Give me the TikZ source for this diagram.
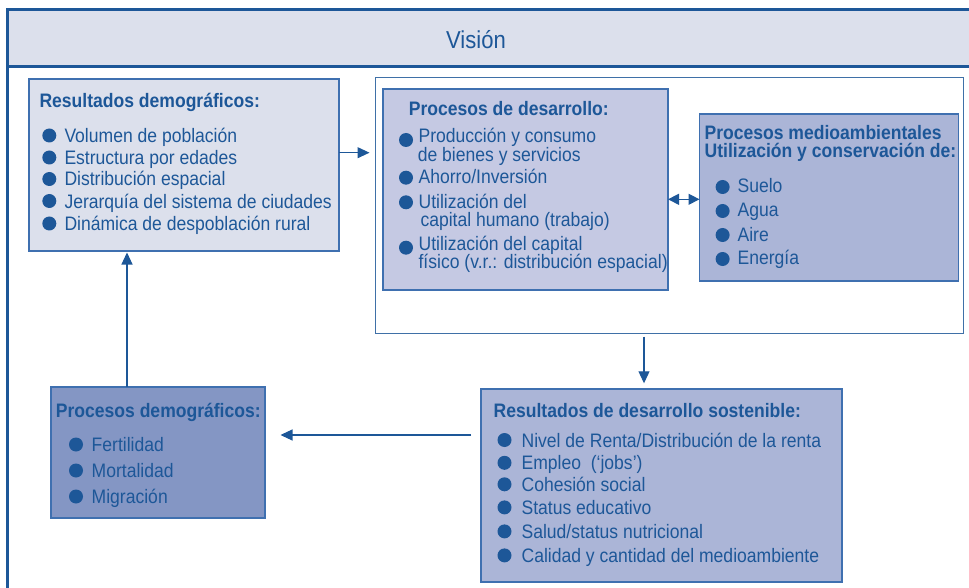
\documentclass[tikz,border=0pt]{standalone}
\usepackage{fontspec}
\setmainfont{Liberation Sans}[FakeStretch=0.9]
\usetikzlibrary{arrows.meta,calc}
\definecolor{tblue}{HTML}{1D5798}
\definecolor{lblue}{HTML}{3F70B0}
\definecolor{fA}{HTML}{DCE0EC}
\definecolor{fB}{HTML}{C5C9E3}
\definecolor{fC}{HTML}{ABB5D7}
\definecolor{fD}{HTML}{8496C4}
\newcommand\myslash{/}
\begin{document}
\begin{tikzpicture}[x=1pt,y=-1pt,
  box/.style={draw=lblue,line width=1.2pt,anchor=north west,inner sep=0pt,outer sep=0pt},
  txt/.style={anchor=base west,inner sep=0pt,text=tblue,font=\fontsize{19.5}{22}\selectfont},
  ttl/.style={txt,font=\fontsize{19.5}{22}\selectfont\bfseries},
  bul/.style={circle,fill=tblue,inner sep=0pt,minimum size=14pt},
  arr/.style={draw=tblue,line width=1.1pt,-{Triangle[length=12pt,width=11pt]}},
  darr/.style={draw=tblue,line width=1.1pt,{Triangle[length=11pt,width=11pt]}-{Triangle[length=11pt,width=11pt]}}]
\useasboundingbox (0,0) rectangle (969,588);
% outer frame and vision band
\node[anchor=north west,fill=fA,inner sep=0pt,minimum width=963pt,minimum height=56pt] (band) at (7,10) {};
\node[anchor=base,inner sep=0pt,text=tblue,font=\fontsize{24.5}{28}\selectfont] (vision) at (476,48.3) {Visión};
\draw[tblue,line width=3pt] (band.south west) -- (band.south east);
\draw[tblue,line width=3pt] (970,10) -- (band.north west) -- (7,590);
% boxes
\node[box,fill=fA,minimum width=310pt,minimum height=172pt] (rd) at (29,79) {};
\node[box,draw=tblue!85,line width=1pt,fill=white,minimum width=588pt,minimum height=255pt] (cont) at (375,78) {};
\node[box,fill=fB,minimum width=285pt,minimum height=201pt] (pdv) at (383,89) {};
\node[box,fill=fC,minimum width=259pt,minimum height=167pt] (pm) at (699.5,114) {};
\node[box,fill=fC,minimum width=361pt,minimum height=193pt] (rds) at (481,389) {};
\node[box,fill=fD,minimum width=214pt,minimum height=131pt] (pdem) at (51,387) {};
% Resultados demograficos
\node[ttl] (rdT) at (39.3,107.7) {Resultados demográficos:};
\foreach \t/\y [count=\i] in {Volumen de población/142.5,Estructura por edades/164.5,Distribución espacial/186,Jerarquía del sistema de ciudades/208,Dinámica de despoblación rural/230.5}{
  \node[bul] (rdb\i) at (49.3,\y-7) {};
  \node[txt] (rdt\i) at (64.3,\y) {\t};
}
% Procesos de desarrollo
\node[ttl] (pdvT) at (408.6,116) {Procesos de desarrollo:};
\foreach \t/\x/\y [count=\i] in {Producción y consumo/418.4/142.3,de bienes y servicios/417.6/161.7,Ahorro\myslash Inversión/418.4/184,Utilización del/418.4/208.3,capital humano (trabajo)/420.3/226.7,Utilización del capital/418.4/250.7,físico (v.r.: distribución espacial)/418.4/268.3}{
  \node[txt] (pdvt\i) at (\x,\y) {\t};
}
\foreach \y [count=\i] in {140,177.7,202.3,247.7}{
  \node[bul] (pdvb\i) at (406,\y) {};
}
% Procesos medioambientales
\node[ttl] (pmT1) at (704.4,140) {Procesos medioambientales};
\node[ttl] (pmT2) at (704.4,158) {Utilización y conservación de:};
\foreach \t/\y [count=\i] in {Suelo/193,Agua/217,Aire/241,Energía/265}{
  \node[bul] (pmb\i) at (722.6,\y-6) {};
  \node[txt] (pmt\i) at (737.4,\y) {\t};
}
% Resultados de desarrollo sostenible
\node[ttl] (rdsT) at (493.5,417.3) {Resultados de desarrollo sostenible:};
\foreach \t/\y [count=\i] in {Nivel de Renta\myslash Distribución de la renta/447,Empleo\ \ (‘jobs’)/469.8,Cohesión social/491.3,Status educativo/514.4,Salud\myslash status nutricional/538.4,Calidad y cantidad del medioambiente/562.4}{
  \node[bul] (rdsb\i) at (504.5,\y-7) {};
  \node[txt] (rdst\i) at (521.4,\y) {\t};
}
% Procesos demograficos
\node[ttl] (pdemT) at (55.7,417.3) {Procesos demográficos:};
\foreach \t/\y [count=\i] in {Fertilidad/451.5,Mortalidad/477.5,Migración/503.5}{
  \node[bul] (pdemb\i) at (76,\y-7) {};
  \node[txt] (pdemt\i) at (91.5,\y) {\t};
}
% connectors
\draw[arr] (rd.east |- 0,152.7) -- ([xshift=-5.5pt]cont.west |- 0,152.7);
\draw[darr] (pdv.east |- 0,199.3) -- (pm.west |- 0,199.3);
\draw[arr] ([yshift=-3.5pt]cont.south -| 644,0) -- ([yshift=5.7pt]rds.north -| 644,0);
\draw[arr] ([xshift=-10pt]rds.west |- 0,435) -- ([xshift=15.5pt]pdem.east |- 0,435);
\draw[arr] (pdem.north -| 127,0) -- ([yshift=-1.5pt]rd.south -| 127,0);
\end{tikzpicture}
\end{document}
